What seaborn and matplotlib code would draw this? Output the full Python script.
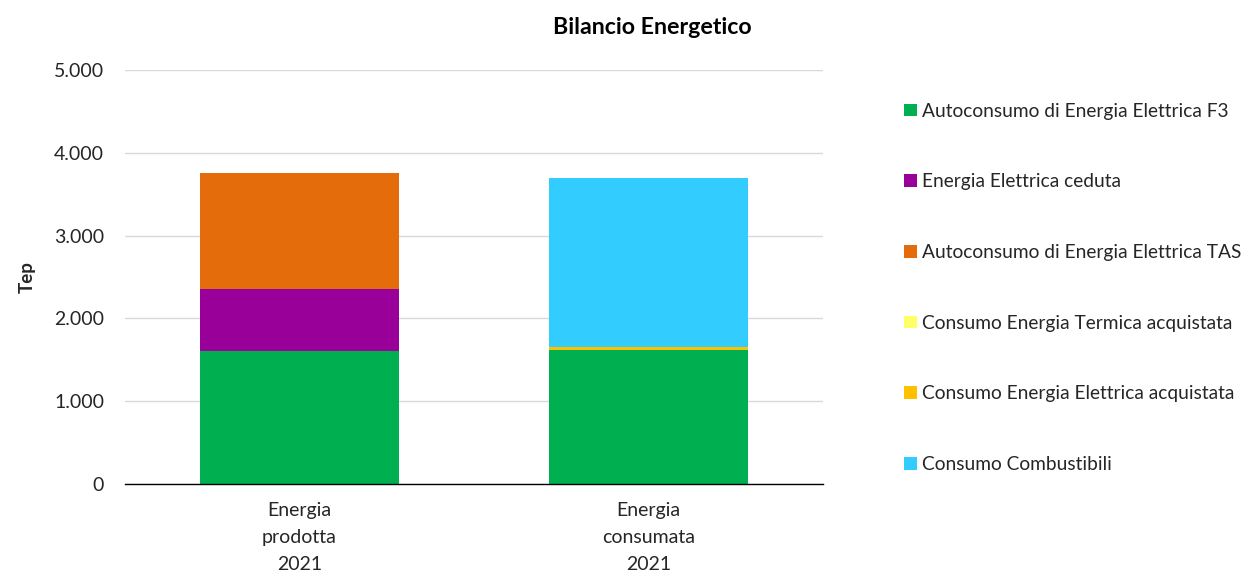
import matplotlib
matplotlib.use('Agg')
import matplotlib.pyplot as plt
from matplotlib.patches import Patch
from matplotlib.ticker import FuncFormatter
import numpy as np
import pandas as pd
import seaborn as sns

# categories and series (Tep)
categorie = ['Energia\nprodotta\n2021', 'Energia\nconsumata\n2021']
serie = ['Autoconsumo di Energia Elettrica F3',
         'Energia Elettrica ceduta',
         'Autoconsumo di Energia Elettrica TAS',
         'Consumo Energia Termica acquistata',
         'Consumo Energia Elettrica acquistata',
         'Consumo Combustibili']
autoconsumo_f3 = [1605, 1615]
el_ceduta = [750, 0]
autoconsumo_tas = [1400, 0]
termica_acq = [0, 3]
elettrica_acq = [0, 32]
combustibili = [0, 2045]
colori = ['#00B050', '#990099', '#E46C0A', '#FFFF66', '#FFC000', '#33CCFF']

valori = np.array([autoconsumo_f3, el_ceduta, autoconsumo_tas,
                   termica_acq, elettrica_acq, combustibili])
cumulato = valori.cumsum(axis=0)

sns.set_theme(style='white')
plt.rcParams['font.family'] = ['Lato', 'DejaVu Sans']

fig = plt.figure(figsize=(12.53, 5.71), dpi=100)
ax = fig.add_axes([0.0998, 0.1524, 0.557, 0.725])

# stacked bars: draw cumulative totals from top layer down
for i in range(len(serie) - 1, -1, -1):
    df = pd.DataFrame({'cat': categorie, 'val': cumulato[i]})
    sns.barplot(data=df, x='cat', y='val', color=colori[i], width=0.57,
                saturation=1, linewidth=0, edgecolor='none', ax=ax, zorder=2)

ax.set_xlim(-0.5, 1.5)
ax.set_ylim(0, 5000)
ax.set_yticks(range(0, 5001, 1000))
ax.yaxis.set_major_formatter(FuncFormatter(lambda v, p: f'{int(v):,}'.replace(',', '.')))
ax.grid(axis='y', color='#D9D9D9', linewidth=1, zorder=0)
ax.set_axisbelow(True)
for s in ['top', 'right', 'left']:
    ax.spines[s].set_visible(False)
ax.spines['bottom'].set_color('black')
ax.spines['bottom'].set_linewidth(1)
ax.tick_params(axis='both', length=0, labelsize=14, colors='#262626')
ax.tick_params(axis='y', pad=15)
ax.tick_params(axis='x', pad=13)
for lab in ax.get_xticklabels():
    lab.set_linespacing(1.7)
ax.set_xlabel('')
ax.set_ylabel('Tep', fontsize=13.5, fontweight='bold')
ax.yaxis.set_label_coords(-0.128, 0.5)

fig.text(652 / 1253, 1 - 28 / 571, 'Bilancio Energetico', ha='center', va='center',
         fontsize=16.7, fontweight='bold', color='black')

handles = [Patch(facecolor=c, edgecolor='none') for c in colori]
fig.legend(handles, serie, loc='upper left', bbox_to_anchor=(0.7155, 0.8335),
           frameon=False, fontsize=13.8, labelspacing=2.8, handlelength=0.65,
           handleheight=0.65, handletextpad=0.3, borderaxespad=0)

fig.savefig('out.png', dpi=100)
